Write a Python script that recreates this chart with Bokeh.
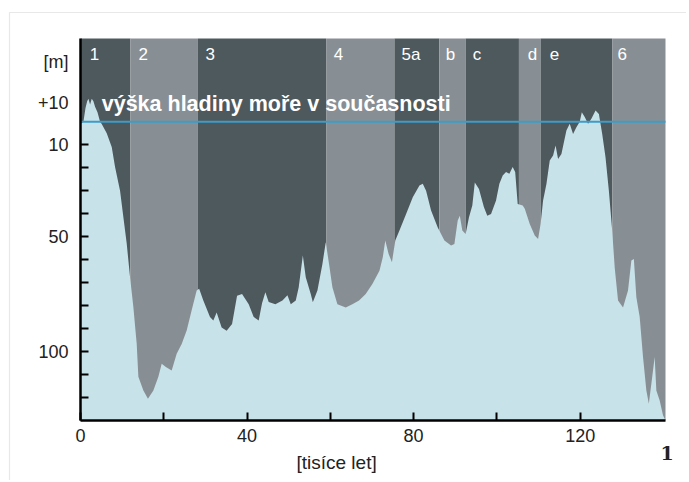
from bokeh.plotting import figure
from bokeh.models import Range1d, FixedTicker, Label, ColumnDataSource, BoxAnnotation
from bokeh.core.properties import value
from bokeh.embed import file_html
from bokeh.resources import INLINE

# ---- data ----
# age in thousands of years, sea-level depth in metres below present (negative = above)
age = [0, 0.7, 1.2, 1.6, 1.9, 2.3, 2.7, 3.1, 3.5, 4.1, 4.7, 5.1, 6.3, 7.5, 8.3, 9.5, 10.3,
       11.1, 11.9, 12.7, 13.5, 13.9, 15.1, 16.2, 17.5, 18.7, 19.5, 20.5, 21.9, 23.1, 24.3,
       25.5, 26.7, 27.9, 28.5, 29.5, 31.1, 31.9, 32.7, 33.9, 35.1, 36.4, 37.6, 38.8, 40.4,
       41.6, 42.8, 43.6, 44.4, 45.2, 46.8, 48.5, 49.7, 50.5, 51.7, 52.4, 53.4, 54.1, 55.3,
       55.8, 56.9, 58.1, 58.9, 59.7, 60.5, 61.7, 63.7, 65.3, 66.9, 68.5, 70.1, 71.8, 72.6,
       73.2, 74.0, 74.8, 75.6, 76.6, 78.2, 79.8, 81.4, 82.2, 83.0, 84.2, 85.8, 87.4, 89.0,
       89.8, 90.6, 91.1, 91.7, 92.5, 93.3, 94.1, 94.7, 95.7, 96.9, 97.7, 98.6, 99.8, 100.6,
       101.4, 102.2, 103.0, 103.8, 104.4, 105.0, 106.2, 106.7, 107.9, 109.1, 109.9, 110.5,
       111.1, 111.9, 112.7, 113.5, 114.1, 114.7, 115.5, 116.7, 117.5, 118.3, 119.1, 119.9,
       120.4, 121.1, 121.9, 122.7, 123.7, 124.5, 125.3, 126.1, 126.9, 127.7, 128.3, 129.1,
       130.3, 131.5, 132.3, 132.9, 133.5, 134.3, 135.1, 135.9, 136.5, 137.3, 137.9, 138.3,
       139.1, 139.9, 140.5]
depth = [1, 0, -6, -9, -10, -7.5, -10, -9, -6.5, -4, 0, 1, 5, 11, 19.7, 30, 41.5,
         53, 67.7, 80.7, 96.7, 111, 117, 120.6, 117, 111, 105.3, 106.8, 108.3, 101, 96.7,
         90.9, 82, 73.4, 72.7, 77.8, 85, 86.5, 83, 89.5, 91, 88, 75.7, 75, 79.4,
         85, 86.5, 79, 74.2, 78.5, 79.4, 77.8, 75.5, 79.4, 77.8, 72.1, 58.2, 67.7, 75,
         78.6, 73.4, 61.9, 52.4, 62, 72, 79.4, 80.8, 79.4, 77.8, 75, 70.6, 64.8, 59,
         51.7, 57.6, 61.1, 51.7, 47.3, 40.1, 32.8, 27.7, 27, 30, 38.6, 46, 51.7, 53.9,
         53.2, 43, 40.9, 47.3, 48.8, 41.6, 36.4, 26.4, 29.3, 37.2, 40.9, 40.1, 34.3, 27,
         23.4, 21.9, 22.6, 19.7, 21.9, 35.8, 36.4, 37.9, 44.5, 49.5, 51, 44.5,
         34.3, 27.1, 16.8, 14.7, 10.3, 16.2, 14, 3.8, 0.9, 5.3, 2.4, 0,
         -4.2, -2.1, 0.9, -1.3, -4.9, -3.4, 5.3, 15.5, 30, 47.4, 63.4, 77.8,
         80.8, 73.4, 60.4, 59.7, 76.4, 85, 102.4, 117, 122.8, 111.2, 102.4, 117,
         121.3, 127.8, 130]

band_start = [0, 12.0, 28.2, 59.0, 75.4, 86.2, 92.5, 105.3, 110.5, 127.7]
band_end = [12.0, 28.2, 59.0, 75.4, 86.2, 92.5, 105.3, 110.5, 127.7, 140.5]
band_label = ["1", "2", "3", "4", "5a", "b", "c", "d", "e", "6"]
band_label_x = [2.2, 13.9, 30.0, 60.8, 77.1, 87.7, 94.2, 107.4, 112.7, 129.0]
band_kind = ["dark", "light", "dark", "light", "dark", "light", "dark", "light", "dark", "light"]

x_ticks = [0, 40, 80, 120]
x_minor = [20, 60, 100]
y_label_ticks = [-26, -8, 10, 50, 100]
y_label_text = ["[m]", "+10", "10", "50", "100"]
y_marks = [10, 20, 30, 40, 50, 60, 70, 80, 90, 100, 110, 120]
sea_level = 0

# plot area extent (data units)
X_MIN, X_MAX = 0, 140.5
Y_TOP, Y_BOTTOM = -36.3, 130

DARK = "#4e595d"
LIGHT = "#888f94"
WATER = "#c8e2e9"
LINE = "#3c9dc8"
INK = "#222222"

# canvas geometry: the frame covers the whole canvas, axes sit at fixed locations
W, H = 686, 480
PX_X0, PX_PER_X = 80.0, 4.1637      # pixel of x=0, pixels per unit
PX_Y0, PX_PER_Y = 121.3, 2.297      # pixel of y=0, pixels per metre
x_range = Range1d(-PX_X0 / PX_PER_X, (W - PX_X0) / PX_PER_X)
y_range = Range1d((H - PX_Y0) / PX_PER_Y, -PX_Y0 / PX_PER_Y)

p = figure(frame_width=W, frame_height=H,
           min_border_left=0, min_border_right=0, min_border_top=0, min_border_bottom=0,
           x_range=x_range, y_range=y_range,
           output_backend="svg", toolbar_location=None)
p.grid.visible = False
p.outline_line_color = None
p.background_fill_color = "white"
p.border_fill_color = "white"

# thin grey page frame (left and top edges only)
p.add_layout(BoxAnnotation(left=(9 - PX_X0) / PX_PER_X, top=(12 - PX_Y0) / PX_PER_Y,
                           right=x_range.end + 20, bottom=y_range.start + 20,
                           fill_color=None, line_color="#b4b4b4", line_width=1.2))

colors = [DARK if k == "dark" else LIGHT for k in band_kind]
bsrc = ColumnDataSource(dict(left=band_start, right=band_end, color=colors,
                             lx=band_label_x, label=band_label))
p.quad(left="left", right="right", top=Y_TOP, bottom=Y_BOTTOM,
       fill_color="color", line_color=None, source=bsrc)

p.varea(x=age, y1=depth, y2=Y_BOTTOM, fill_color=WATER)

p.segment(x0=X_MIN, x1=X_MAX, y0=sea_level, y1=sea_level, line_color=LINE, line_width=2)

p.text(x="lx", y=-29.3, text="label", source=bsrc, text_color="white",
       text_font=value("Liberation Sans"), text_font_size="17px",
       text_baseline="middle", text_align="left")

p.add_layout(Label(x=5.1, y=-7.8, text="výška hladiny moře v současnosti",
                   text_color="white", text_font="Liberation Sans", text_font_style="bold",
                   text_font_size="21.5px", text_baseline="alphabetic"))

# axes
for ax in (p.xaxis[0], p.yaxis[0]):
    ax.axis_line_color = "black"
    ax.axis_line_width = 2.5
    ax.major_tick_in = 8
    ax.major_tick_out = 0
    ax.minor_tick_in = 8
    ax.minor_tick_out = 0
    ax.major_tick_line_color = "black"
    ax.minor_tick_line_color = "black"
    ax.major_tick_line_width = 2
    ax.minor_tick_line_width = 2
    ax.major_label_text_font = "Liberation Sans"
    ax.major_label_text_font_size = "18px"
    ax.major_label_text_color = INK

p.xaxis.ticker = FixedTicker(ticks=x_ticks, minor_ticks=x_minor)
p.xaxis.fixed_location = Y_BOTTOM
p.xaxis.bounds = (X_MIN, X_MAX)
p.xaxis.major_label_standoff = 9

p.yaxis.ticker = FixedTicker(ticks=y_label_ticks, minor_ticks=y_marks)
p.yaxis.major_label_overrides = dict(zip(y_label_ticks, y_label_text))
p.yaxis.fixed_location = X_MIN
p.yaxis.bounds = (Y_TOP, Y_BOTTOM)
p.yaxis.major_tick_in = 0
p.yaxis.major_label_standoff = 12

p.add_layout(Label(x=61.5, y=148.4, text="[tisíce let]",
                   text_align="center", text_baseline="alphabetic",
                   text_font="Liberation Sans", text_font_size="19px", text_color=INK))
p.add_layout(Label(x=140.9, y=144.4, text="1",
                   text_align="center", text_baseline="alphabetic",
                   text_font="DejaVu Serif", text_font_style="bold", text_font_size="19px",
                   text_color=INK))

open("out.html", "w").write(file_html(p, INLINE))
